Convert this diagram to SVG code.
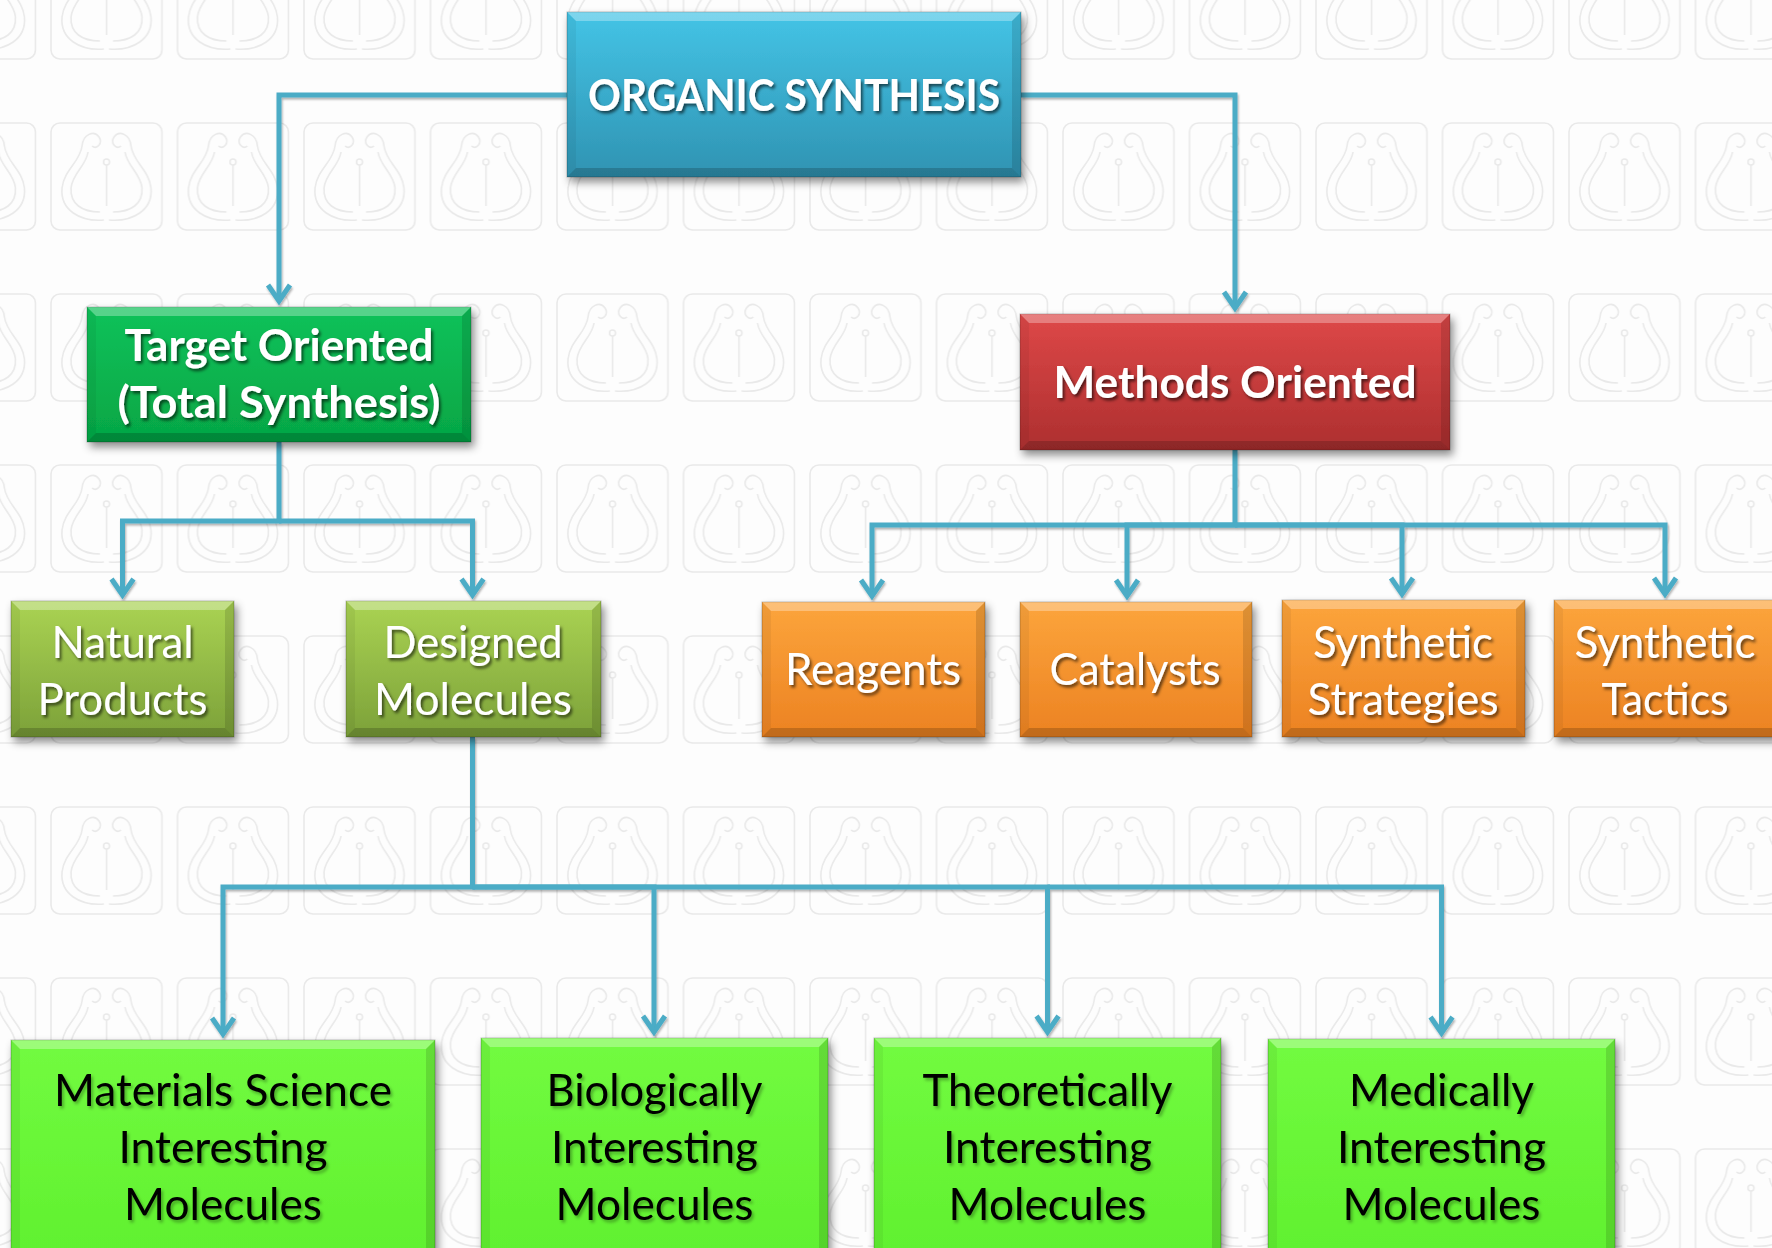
<svg xmlns="http://www.w3.org/2000/svg" xmlns:xlink="http://www.w3.org/1999/xlink" width="1772" height="1248" viewBox="0 0 1772 1248">
<defs>
<style>
.box{stroke:#000;stroke-opacity:.22;stroke-width:1;}
.bt{fill:#fff;fill-opacity:.3;}
.bb{fill:#000;fill-opacity:.18;}
.bl{fill:#000;fill-opacity:.05;}
.br{fill:#000;fill-opacity:.12;}
.tw{font-family:Lato,"Liberation Sans",sans-serif;font-size:44px;fill:#fff;text-anchor:middle;filter:url(#ts);}
.tb{font-weight:bold;}
.tk{font-family:Lato,"Liberation Sans",sans-serif;font-size:44px;fill:#000;text-anchor:middle;filter:url(#tsk);}
.con{fill:none;stroke:#4bacc6;stroke-width:5;stroke-linejoin:miter;}
.wm{fill:none;stroke:#e9e9e9;stroke-width:1.6;}
</style>
<linearGradient id="gBlue" x1="0" y1="0" x2="0" y2="1"><stop offset="0" stop-color="#44c4e6"/><stop offset="1" stop-color="#2f93b2"/></linearGradient>
<linearGradient id="gTarget" x1="0" y1="0" x2="0" y2="1"><stop offset="0" stop-color="#10c25a"/><stop offset="1" stop-color="#05a645"/></linearGradient>
<linearGradient id="gRed" x1="0" y1="0" x2="0" y2="1"><stop offset="0" stop-color="#de4848"/><stop offset="1" stop-color="#ad2f2f"/></linearGradient>
<linearGradient id="gOlive" x1="0" y1="0" x2="0" y2="1"><stop offset="0" stop-color="#aad353"/><stop offset="1" stop-color="#7ca139"/></linearGradient>
<linearGradient id="gOrange" x1="0" y1="0" x2="0" y2="1"><stop offset="0" stop-color="#fca53c"/><stop offset="1" stop-color="#ec8222"/></linearGradient>
<linearGradient id="gLime" x1="0" y1="0" x2="0" y2="1"><stop offset="0" stop-color="#72fb40"/><stop offset="1" stop-color="#5ff02e"/></linearGradient>
<filter id="sh" x="-10%" y="-10%" width="130%" height="140%"><feDropShadow dx="3" dy="5" stdDeviation="4" flood-color="#000" flood-opacity="0.45"/></filter>
<filter id="ls" x="-10%" y="-10%" width="130%" height="130%"><feDropShadow dx="1" dy="2" stdDeviation="1.2" flood-color="#000" flood-opacity="0.3"/></filter>
<filter id="ts" x="-10%" y="-30%" width="130%" height="170%"><feDropShadow dx="2" dy="2.5" stdDeviation="1.5" flood-color="#000" flood-opacity="0.6"/></filter>
<filter id="tsk" x="-10%" y="-30%" width="130%" height="170%"><feDropShadow dx="2" dy="2.5" stdDeviation="1.5" flood-color="#000" flood-opacity="0.3"/></filter>
<marker id="arr" markerUnits="userSpaceOnUse" viewBox="-22 -15 28 30" markerWidth="28" markerHeight="30" refX="0" refY="0" orient="auto">
<path d="M-16 -11 L0 0 L-16 11" fill="none" stroke="#4bacc6" stroke-width="5"/>
</marker>
<pattern id="wmp" x="50" y="122" width="126.5" height="171" patternUnits="userSpaceOnUse">
<g class="wm">
<rect x="1" y="1" width="111" height="107" rx="9"/>
<path id="pl" d="M54 98 C30 100 10 88 12 66 C14 48 30 40 32 24 C33 12 44 8 49 15 C53 21 47 28 42 24 M50 90 C32 90 20 82 21 66 C22 52 36 44 38 30"/>
<use xlink:href="#pl" transform="translate(113 0) scale(-1 1)"/>
<circle cx="56.5" cy="40" r="3"/>
<path d="M56.5 43 V84"/>
</g>
</pattern>
</defs>

<rect width="1772" height="1248" fill="#fdfdfd"/>
<rect width="1772" height="1248" fill="url(#wmp)"/>

<g id="connectors" filter="url(#ls)">
<path class="con" d="M567 95 H279 V301" marker-end="url(#arr)"/>
<path class="con" d="M1021 95 H1235 V308" marker-end="url(#arr)"/>
<path class="con" d="M279 442 V521 H122.5 V595" marker-end="url(#arr)"/>
<path class="con" d="M279 521 H472.5 V595" marker-end="url(#arr)"/>
<path class="con" d="M1235 450 V525 H872 V596" marker-end="url(#arr)"/>
<path class="con" d="M1235 525 H1127 V596" marker-end="url(#arr)"/>
<path class="con" d="M1235 525 H1402 V594" marker-end="url(#arr)"/>
<path class="con" d="M1235 525 H1665 V594" marker-end="url(#arr)"/>
<path class="con" d="M472.5 737 V887 H223 V1034" marker-end="url(#arr)"/>
<path class="con" d="M472.5 887 H654 V1032" marker-end="url(#arr)"/>
<path class="con" d="M472.5 887 H1047.5 V1032" marker-end="url(#arr)"/>
<path class="con" d="M1047.5 887 H1441.5 V1033" marker-end="url(#arr)"/>
</g>

<g id="organic-synthesis">
<rect class="box" x="567" y="12" width="454" height="165" fill="url(#gBlue)" filter="url(#sh)"/>
<path class="bt" d="M567 12h454l-9 9h-436z"/><path class="bb" d="M567 177h454l-9 -9h-436z"/>
<path class="bl" d="M567 12l9 9v147l-9 9z"/><path class="br" d="M1021 12l-9 9v147l9 9z"/>
<text class="tw tb" x="794" y="111" textLength="412" lengthAdjust="spacingAndGlyphs">ORGANIC SYNTHESIS</text>
</g>

<g id="target-oriented">
<rect class="box" x="87" y="307" width="384" height="135" fill="url(#gTarget)" filter="url(#sh)"/>
<path class="bt" d="M87 307h384l-9 9h-366z"/><path class="bb" d="M87 442h384l-9 -9h-366z"/>
<path class="bl" d="M87 307l9 9v117l-9 9z"/><path class="br" d="M471 307l-9 9v117l9 9z"/>
<text class="tw tb" x="279" y="361" textLength="309" lengthAdjust="spacingAndGlyphs">Target Oriented</text>
<text class="tw tb" x="279" y="418" textLength="323" lengthAdjust="spacingAndGlyphs">(Total Synthesis)</text>
</g>

<g id="methods-oriented">
<rect class="box" x="1020" y="314" width="430" height="136" fill="url(#gRed)" filter="url(#sh)"/>
<path class="bt" d="M1020 314h430l-9 9h-412z"/><path class="bb" d="M1020 450h430l-9 -9h-412z"/>
<path class="bl" d="M1020 314l9 9v118l-9 9z"/><path class="br" d="M1450 314l-9 9v118l9 9z"/>
<text class="tw tb" x="1235" y="398" textLength="363" lengthAdjust="spacingAndGlyphs">Methods Oriented</text>
</g>

<g id="natural-products">
<rect class="box" x="11" y="601" width="223" height="136" fill="url(#gOlive)" filter="url(#sh)"/>
<path class="bt" d="M11 601h223l-9 9h-205z"/><path class="bb" d="M11 737h223l-9 -9h-205z"/>
<path class="bl" d="M11 601l9 9v118l-9 9z"/><path class="br" d="M234 601l-9 9v118l9 9z"/>
<text class="tw" x="122.5" y="658" textLength="142" lengthAdjust="spacingAndGlyphs">Natural</text>
<text class="tw" x="122.5" y="715" textLength="170" lengthAdjust="spacingAndGlyphs">Products</text>
</g>

<g id="designed-molecules">
<rect class="box" x="346" y="601" width="255" height="136" fill="url(#gOlive)" filter="url(#sh)"/>
<path class="bt" d="M346 601h255l-9 9h-237z"/><path class="bb" d="M346 737h255l-9 -9h-237z"/>
<path class="bl" d="M346 601l9 9v118l-9 9z"/><path class="br" d="M601 601l-9 9v118l9 9z"/>
<text class="tw" x="473" y="658" textLength="179" lengthAdjust="spacingAndGlyphs">Designed</text>
<text class="tw" x="473" y="715" textLength="198" lengthAdjust="spacingAndGlyphs">Molecules</text>
</g>

<g id="reagents">
<rect class="box" x="762" y="602" width="223" height="135" fill="url(#gOrange)" filter="url(#sh)"/>
<path class="bt" d="M762 602h223l-9 9h-205z"/><path class="bb" d="M762 737h223l-9 -9h-205z"/>
<path class="bl" d="M762 602l9 9v117l-9 9z"/><path class="br" d="M985 602l-9 9v117l9 9z"/>
<text class="tw" x="873" y="685" textLength="176" lengthAdjust="spacingAndGlyphs">Reagents</text>
</g>

<g id="catalysts">
<rect class="box" x="1020" y="602" width="232" height="135" fill="url(#gOrange)" filter="url(#sh)"/>
<path class="bt" d="M1020 602h232l-9 9h-214z"/><path class="bb" d="M1020 737h232l-9 -9h-214z"/>
<path class="bl" d="M1020 602l9 9v117l-9 9z"/><path class="br" d="M1252 602l-9 9v117l9 9z"/>
<text class="tw" x="1135" y="685" textLength="171" lengthAdjust="spacingAndGlyphs">Catalysts</text>
</g>

<g id="synthetic-strategies">
<rect class="box" x="1282" y="600" width="243" height="137" fill="url(#gOrange)" filter="url(#sh)"/>
<path class="bt" d="M1282 600h243l-9 9h-225z"/><path class="bb" d="M1282 737h243l-9 -9h-225z"/>
<path class="bl" d="M1282 600l9 9v119l-9 9z"/><path class="br" d="M1525 600l-9 9v119l9 9z"/>
<text class="tw" x="1403" y="658" textLength="180" lengthAdjust="spacingAndGlyphs">Synthetic</text>
<text class="tw" x="1403" y="715" textLength="191" lengthAdjust="spacingAndGlyphs">Strategies</text>
</g>

<g id="synthetic-tactics">
<rect class="box" x="1554" y="600" width="240" height="137" fill="url(#gOrange)" filter="url(#sh)"/>
<path class="bt" d="M1554 600h240l-9 9h-222z"/><path class="bb" d="M1554 737h240l-9 -9h-222z"/>
<path class="bl" d="M1554 600l9 9v119l-9 9z"/>
<text class="tw" x="1665" y="658" textLength="181" lengthAdjust="spacingAndGlyphs">Synthetic</text>
<text class="tw" x="1665" y="715" textLength="127" lengthAdjust="spacingAndGlyphs">Tactics</text>
</g>

<g id="materials-science">
<rect class="box" x="11" y="1040" width="424" height="230" fill="url(#gLime)" filter="url(#sh)"/>
<path class="bt" d="M11 1040h424l-9 9h-406z"/>
<path class="bl" d="M11 1040l9 9V1270h-9z"/><path class="br" d="M435 1040l-9 9V1270h9z"/>
<text class="tk" x="223" y="1106" textLength="338" lengthAdjust="spacingAndGlyphs">Materials Science</text>
<text class="tk" x="223" y="1163" textLength="209" lengthAdjust="spacingAndGlyphs">Interesting</text>
<text class="tk" x="223" y="1220" textLength="198" lengthAdjust="spacingAndGlyphs">Molecules</text>
</g>

<g id="biologically">
<rect class="box" x="481" y="1038" width="347" height="232" fill="url(#gLime)" filter="url(#sh)"/>
<path class="bt" d="M481 1038h347l-9 9h-329z"/>
<path class="bl" d="M481 1038l9 9V1270h-9z"/><path class="br" d="M828 1038l-9 9V1270h9z"/>
<text class="tk" x="654.5" y="1106" textLength="216" lengthAdjust="spacingAndGlyphs">Biologically</text>
<text class="tk" x="654.5" y="1163" textLength="207" lengthAdjust="spacingAndGlyphs">Interesting</text>
<text class="tk" x="654.5" y="1220" textLength="198" lengthAdjust="spacingAndGlyphs">Molecules</text>
</g>

<g id="theoretically">
<rect class="box" x="874" y="1038" width="347" height="232" fill="url(#gLime)" filter="url(#sh)"/>
<path class="bt" d="M874 1038h347l-9 9h-329z"/>
<path class="bl" d="M874 1038l9 9V1270h-9z"/><path class="br" d="M1221 1038l-9 9V1270h9z"/>
<text class="tk" x="1047.5" y="1106" textLength="250" lengthAdjust="spacingAndGlyphs">Theoretically</text>
<text class="tk" x="1047.5" y="1163" textLength="209" lengthAdjust="spacingAndGlyphs">Interesting</text>
<text class="tk" x="1047.5" y="1220" textLength="198" lengthAdjust="spacingAndGlyphs">Molecules</text>
</g>

<g id="medically">
<rect class="box" x="1268" y="1039" width="347" height="231" fill="url(#gLime)" filter="url(#sh)"/>
<path class="bt" d="M1268 1039h347l-9 9h-329z"/>
<path class="bl" d="M1268 1039l9 9V1270h-9z"/><path class="br" d="M1615 1039l-9 9V1270h9z"/>
<text class="tk" x="1441.5" y="1106" textLength="185" lengthAdjust="spacingAndGlyphs">Medically</text>
<text class="tk" x="1441.5" y="1163" textLength="209" lengthAdjust="spacingAndGlyphs">Interesting</text>
<text class="tk" x="1441.5" y="1220" textLength="198" lengthAdjust="spacingAndGlyphs">Molecules</text>
</g>
</svg>
